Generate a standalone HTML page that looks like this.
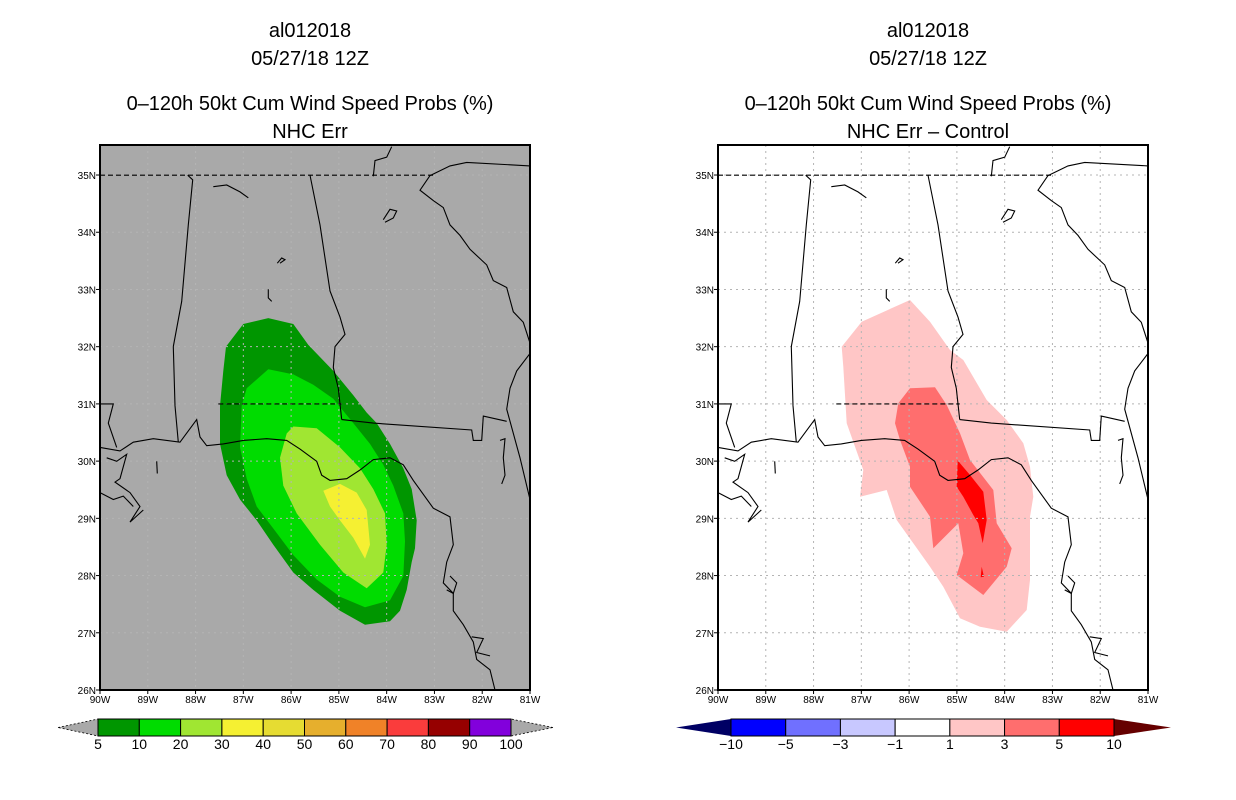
<!DOCTYPE html>
<html><head><meta charset="utf-8"><style>
html,body{margin:0;padding:0;background:#fff;}
svg{display:block;font-family:"Liberation Sans",sans-serif;}
</style></head><body>
<svg id="root" width="1236" height="800" viewBox="0 0 1236 800">
<g font-size="20" text-anchor="middle" fill="#000">
<text x="310" y="37">al012018</text>
<text x="310" y="65">05/27/18 12Z</text>
<text x="310" y="110">0–120h 50kt Cum Wind Speed Probs (%)</text>
<text x="310" y="138">NHC Err</text>
<text x="928" y="37">al012018</text>
<text x="928" y="65">05/27/18 12Z</text>
<text x="928" y="110">0–120h 50kt Cum Wind Speed Probs (%)</text>
<text x="928" y="138">NHC Err – Control</text>
</g>
</svg>
<script>
const NS="http://www.w3.org/2000/svg";
const root=document.getElementById('root');
const lonTicks=["90W","89W","88W","87W","86W","85W","84W","83W","82W","81W"];
const latTicks=["26N","27N","28N","29N","30N","31N","32N","33N","34N","35N"];
const leftLevels=["5","10","20","30","40","50","60","70","80","90","100"];
const leftColors=["#009600","#00dc00","#a0e632","#f5f032","#e6dc32","#e6af2d","#f08228","#fa3c3c","#960000","#8200dc"];
const rightLevels=["-10","-5","-3","-1","1","3","5","10"];
const rightColors=["#0000ff","#7070ff","#c8c8ff","#ffffff","#ffc6c6","#ff6e6e","#ff0000"];
const prob5=[[430,515],[505,498],[580,515],[625,575],[700,650],[760,720],[800,770],[830,800],[870,860],[910,930],[935,990],[950,1080],[945,1160],[935,1200],[920,1280],[900,1340],[870,1370],[795,1380],[720,1340],[640,1280],[580,1230],[520,1150],[470,1080],[420,1020],[380,950],[360,860],[360,750],[370,650],[378,580]];
const prob10=[[505,645],[580,660],[640,690],[700,730],[760,800],[810,860],[850,920],[880,980],[910,1060],[915,1140],[910,1240],[870,1310],[795,1330],[720,1300],[650,1250],[580,1180],[525,1110],[470,1040],[440,960],[420,870],[425,750],[440,700]];
const prob20=[[580,810],[650,815],[720,870],[780,930],[820,990],[855,1060],[860,1150],[850,1230],[800,1275],[730,1230],[660,1150],[590,1060],[550,980],[540,900],[560,830]];
const prob30=[[670,995],[720,975],[770,1000],[800,1050],[810,1150],[795,1190],[760,1130],[720,1080],[690,1040]];
const diff1=[[240,30],[300,95],[360,180],[400,210],[470,330],[530,390],[580,460],[600,530],[610,620],[600,680],[600,760],[600,870],[590,960],[530,1025],[450,1010],[390,985],[340,890],[300,830],[250,760],[200,690],[170,600],[90,620],[100,540],[50,400],[40,230],[35,170],[95,95]];
const diff3=[[240,295],[315,292],[350,345],[390,430],[420,510],[490,600],[500,700],[545,775],[530,830],[460,915],[380,855],[400,790],[385,700],[310,775],[300,680],[240,590],[240,530],[210,450],[195,400],[205,340]];
const diff5=[[383,510],[390,520],[420,555],[460,605],[470,690],[458,760],[445,700],[430,675],[400,620],[380,590]];
const diff5b=[[455,830],[462,860],[452,862]];
const lines=[
 {d:[[0,87],[1000,87]],dash:true},
 {d:[[263,87],[278,100],[265,230],[245,450],[220,580],[225,750],[235,855]]},
 {d:[[630,87],[660,230],[690,420],[720,495],[735,545],[705,580],[700,640],[715,700],[725,790]]},
 {d:[[355,745],[725,745]],dash:true},
 {d:[[725,790],[820,800],[1115,820],[1120,850],[1145,850],[1150,780],[1220,795]]},
 {d:[[0,745],[40,745],[25,800],[50,870]]},
 {d:[[0,870],[60,880],[100,855],[160,845],[240,855],[290,790],[300,840],[320,865],[370,860],[430,850],[500,845],[560,850],[600,875],[650,910],[665,950],[690,965],[740,960],[780,935],[820,905],[870,900],[910,920],[940,965],[1000,1045],[1050,1070],[1060,1150],[1040,1200],[1030,1260],[1060,1290],[1060,1340],[1090,1380],[1120,1430],[1130,1480],[1170,1510],[1185,1568]]},
 {d:[[990,88],[960,130],[1000,160],[1030,180],[1050,230],[1080,260],[1110,300],[1160,345],[1180,390],[1220,410],[1240,480],[1270,510],[1290,570]]},
 {d:[[990,88],[1050,60],[1100,50],[1290,60]]},
 {d:[[820,90],[825,45],[860,35],[875,5]]},
 {d:[[1290,600],[1250,650],[1230,700],[1220,760],[1260,900],[1290,1020]]},
 {d:[[1200,850],[1215,845],[1210,900],[1215,950],[1205,975]]},
 {d:[[340,120],[380,115],[420,135],[445,152]]},
 {d:[[850,215],[870,185],[890,190],[880,210],[855,222]]},
 {d:[[532,340],[545,325],[555,330],[540,340]]},
 {d:[[505,415],[505,440],[515,450]]},
 {d:[[20,900],[50,910],[80,890],[60,960],[45,970],[90,1000],[120,1040],[100,1070],[90,1085],[130,1050]]},
 {d:[[0,1000],[40,1020],[70,1010],[100,1040]]},
 {d:[[170,910],[172,945]]},
 {d:[[1050,1240],[1070,1260],[1060,1290],[1040,1280]]},
 {d:[[1115,1415],[1150,1420],[1130,1460],[1170,1470]]}
];
const K=1635/1568;
function el(tag,attrs,parent){const e=document.createElementNS(NS,tag);for(const k in attrs)e.setAttribute(k,attrs[k]);(parent||root).appendChild(e);return e;}
const PW=430,PH=545,PT=145;
function px(p){return (p[0]/3).toFixed(1)+','+(p[1]*K/3).toFixed(1);}
function drawMap(ox,bg,fills,name){
  const g=el('g',{transform:`translate(${ox},${PT})`});
  
  
  const cp=el('clipPath',{id:'cp'+ox},g);el('rect',{x:0,y:0,width:PW,height:PH},cp);
  const inner=el('g',{'clip-path':`url(#cp${ox})`},g);
  el('rect',{x:0,y:0,width:PW,height:PH,fill:bg},inner);
  fills.forEach(f=>{const p=el('polygon',{points:f.pts.map(q=>((q[0]+f.dx)/3).toFixed(1)+','+((q[1]*f.ky+f.dy)/3).toFixed(1)).join(' '),fill:f.c},inner);
    
    });
  const lonStep=PW/9, latStep=57.22, y26=545;
  for(let i=1;i<9;i++){el('line',{x1:i*lonStep,y1:0,x2:i*lonStep,y2:PH,stroke:'#b4b4b4','stroke-dasharray':'2,4','stroke-width':1},inner);}
  for(let j=1;j<10;j++){const y=y26-j*latStep;el('line',{x1:0,y1:y,x2:PW,y2:y,stroke:'#b4b4b4','stroke-dasharray':'2,4','stroke-width':1},inner);}
  lines.forEach(L=>{const l=el('polyline',{points:L.d.map(px).join(' '),fill:'none',stroke:'#000','stroke-width':1.1},inner);if(L.dash)l.setAttribute('stroke-dasharray','5,3');
    
    });
  el('rect',{x:0,y:0,width:PW,height:PH,fill:'none',stroke:'#000','stroke-width':2},g);
  lonTicks.forEach((t,i)=>{const x=i*lonStep;el('line',{x1:x,y1:PH,x2:x,y2:PH+4,stroke:'#000'},g);
    const tx=el('text',{x:x,y:PH+13,'font-size':10,'text-anchor':'middle'},g);tx.textContent=t;
    
    });
  latTicks.forEach((t,j)=>{const y=y26-j*latStep;el('line',{x1:-4,y1:y,x2:0,y2:y,stroke:'#000'},g);
    const tx=el('text',{x:-4,y:y+4,'font-size':10,'text-anchor':'end'},g);tx.textContent=t;
    
    });
}
drawMap(100,'#a9a9a9',[{pts:prob5,c:leftColors[0],dx:0,dy:0,ky:K,n:'prob-5-10'},{pts:prob10,c:leftColors[1],dx:0,dy:0,ky:K,n:'prob-10-20'},{pts:prob20,c:leftColors[2],dx:0,dy:0,ky:K,n:'prob-20-30'},{pts:prob30,c:leftColors[3],dx:0,dy:0,ky:K,n:'prob-30-40'}],'left-map');
drawMap(718,'#ffffff',[{pts:diff1,c:rightColors[4],dx:336,dy:435,ky:1,n:'diff-1-3'},{pts:diff3,c:rightColors[5],dx:336,dy:435,ky:1,n:'diff-3-5'},{pts:diff5,c:rightColors[6],dx:336,dy:435,ky:1,n:'diff-5-10'},{pts:diff5b,c:rightColors[6],dx:336,dy:435,ky:1,n:'diff-5-10b'}],'right-map');
function colorbar(x0,x1,tipL,tipR,colors,levels,triL,triR,name,dashTri){
  const g=el('g',{});
  
  
  const y0=719,y1=736,ym=(y0+y1)/2,w=(x1-x0)/colors.length;
  const tl=el('polygon',{points:`${tipL},${ym} ${x0},${y0} ${x0},${y1}`,fill:triL,stroke:dashTri?'#000':'none','stroke-dasharray':'2,2','stroke-width':0.8},g);
  
  const tr=el('polygon',{points:`${tipR},${ym} ${x1},${y0} ${x1},${y1}`,fill:triR,stroke:dashTri?'#000':'none','stroke-dasharray':'2,2','stroke-width':0.8},g);
  
  colors.forEach((c,i)=>{const r=el('rect',{x:x0+i*w,y:y0,width:w,height:y1-y0,fill:c,stroke:'#000','stroke-width':1},g);
    
    });
  levels.forEach((l,i)=>{const t=el('text',{x:x0+i*w,y:749,'font-size':14,'text-anchor':'middle'},g);t.textContent=l.replace('-','−');
    
    });
}
colorbar(98,511,58,553,leftColors,leftLevels,'#a9a9a9','#a9a9a9','left-colorbar',true);
colorbar(731,1114,676,1171,rightColors,rightLevels,'#000064','#660000','right-colorbar',false);
</script>
</body></html>
